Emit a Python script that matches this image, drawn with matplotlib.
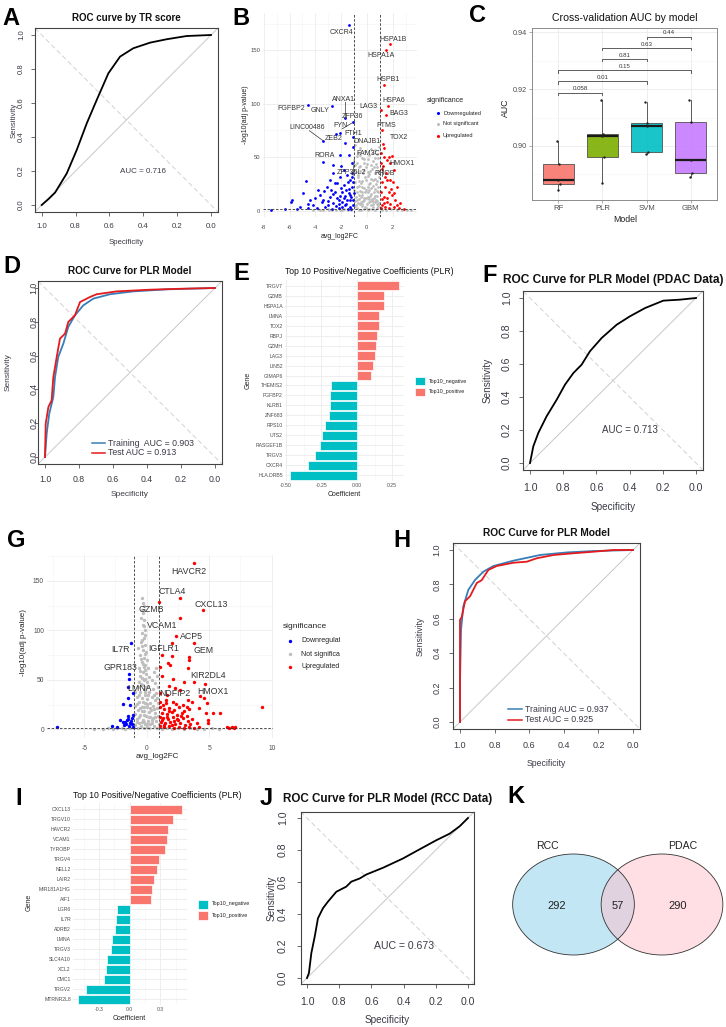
import numpy as np
import matplotlib.pyplot as plt
import matplotlib.transforms as mtrans
from matplotlib.patches import Ellipse, Rectangle

plt.rcParams['font.family'] = ['Liberation Sans', 'DejaVu Sans']

W, H = 726, 1027

# ---------------- data ----------------
# A: ROC curve by TR score
a_spec = [1.0, 0.96, 0.921, 0.852, 0.793, 0.734, 0.675, 0.606, 0.537, 0.459, 0.360, 0.262, 0.144, 0.0]
a_sens = [0.0, 0.035, 0.073, 0.186, 0.324, 0.480, 0.618, 0.775, 0.873, 0.922, 0.955, 0.975, 0.994, 1.0]

# D: PLR model, train / test
d_train_spec = [1.0, 0.99, 0.975, 0.951, 0.941, 0.922, 0.892, 0.863, 0.824, 0.775, 0.716, 0.618, 0.48, 0.284, 0.0]
d_train_sens = [0.0, 0.14, 0.256, 0.355, 0.473, 0.592, 0.671, 0.77, 0.838, 0.897, 0.937, 0.963, 0.98, 0.992, 1.0]
d_test_spec = [1.0, 0.996, 0.98, 0.961, 0.951, 0.931, 0.912, 0.882, 0.863, 0.824, 0.794, 0.735, 0.696, 0.578, 0.382, 0.186, 0.0]
d_test_sens = [0.0, 0.197, 0.296, 0.335, 0.473, 0.592, 0.70, 0.730, 0.799, 0.838, 0.917, 0.947, 0.963, 0.980, 0.990, 0.996, 1.0]

# F: PDAC data
f_spec = [1.0, 0.98, 0.95, 0.90, 0.839, 0.789, 0.739, 0.689, 0.639, 0.568, 0.478, 0.398, 0.307, 0.197, 0.096, 0.0]
f_sens = [0.0, 0.101, 0.182, 0.283, 0.384, 0.475, 0.545, 0.596, 0.677, 0.758, 0.838, 0.889, 0.939, 0.984, 0.990, 1.0]

# H: PLR model (second cohort)
h_train_spec = [1.0, 1.0, 0.994, 0.981, 0.952, 0.913, 0.865, 0.807, 0.691, 0.537, 0.382, 0.228, 0.0]
h_train_sens = [0.0, 0.226, 0.536, 0.671, 0.768, 0.826, 0.874, 0.907, 0.938, 0.971, 0.986, 0.994, 1.0]
h_test_spec = [1.0, 1.0, 0.99, 0.971, 0.942, 0.903, 0.875, 0.836, 0.788, 0.691, 0.614, 0.556, 0.459, 0.344, 0.228, 0.112, 0.0]
h_test_sens = [0.0, 0.594, 0.61, 0.702, 0.731, 0.808, 0.824, 0.884, 0.907, 0.926, 0.932, 0.952, 0.971, 0.981, 0.99, 1.0, 1.0]

# J: RCC data
j_spec = [1.0, 0.988, 0.973, 0.952, 0.932, 0.901, 0.870, 0.818, 0.756, 0.725, 0.673, 0.631, 0.528, 0.404, 0.321, 0.197, 0.114, 0.052, 0.0]
j_sens = [0.0, 0.031, 0.156, 0.259, 0.373, 0.436, 0.477, 0.539, 0.571, 0.602, 0.622, 0.647, 0.689, 0.747, 0.793, 0.861, 0.902, 0.948, 1.0]

# C: cross-validation AUC
models = ['RF', 'PLR', 'SVM', 'GBM']
cv_auc = {
    'RF':  [0.9019, 0.8937, 0.8880, 0.8867, 0.8845],
    'PLR': [0.9160, 0.9041, 0.9036, 0.8960, 0.8871],
    'SVM': [0.9156, 0.9082, 0.9070, 0.8980, 0.8972],
    'GBM': [0.9162, 0.9085, 0.8951, 0.8906, 0.8892],
}
cmp_pairs = [('RF', 'PLR'), ('RF', 'SVM'), ('RF', 'GBM'), ('PLR', 'SVM'), ('PLR', 'GBM'), ('SVM', 'GBM')]
cmp_p = ['0.058', '0.01', '0.15', '0.81', '0.63', '0.44']

# E: top coefficients (first model)
e_genes = ['TRGV7', 'GZMB', 'HSPA1A', 'LMNA', 'TOX2', 'RBPJ', 'GZMH', 'LAG3', 'LIN52', 'GIMAP6',
           'THEMIS2', 'FGFBP2', 'KLRB1', 'ZNF683', 'RPS10', 'UTS2', 'RASGEF1B', 'TRGV3', 'CXCR4', 'HLA.DRB5']
e_coef = [0.295, 0.193, 0.193, 0.156, 0.156, 0.142, 0.132, 0.125, 0.113, 0.101,
          -0.179, -0.186, -0.191, -0.196, -0.226, -0.243, -0.257, -0.295, -0.347, -0.469]
e_ticks = [-0.50, -0.25, 0.00, 0.25]
e_ticklabels = ['-0.50', '-0.25', '0.00', '0.25']

# I: top coefficients (second model)
i_genes = ['CXCL13', 'TRGV10', 'HAVCR2', 'VCAM1', 'TYROBP', 'TRGV4', 'NELL2', 'LAIR2', 'MIR181A1HG', 'AIF1',
           'LGR6', 'IL7R', 'ADRB2', 'LMNA', 'TRGV3', 'SLC4A10', 'XCL2', 'CMC1', 'TRGV2', 'MTRNR2L8']
i_coef = [0.511, 0.423, 0.381, 0.365, 0.349, 0.293, 0.264, 0.244, 0.221, 0.208,
          -0.124, -0.130, -0.140, -0.169, -0.186, -0.221, -0.235, -0.254, -0.423, -0.502]
i_ticks = [-0.3, 0.0, 0.3]
i_ticklabels = ['-0.3', '0.0', '0.3']

# B: volcano (avg_log2FC, -log10 adj p)
b_down = [(-1.35, 173.4), (-4.53, 99.1), (-2.72, 98.1), (-1.68, 86.6), (-1.09, 82.5), (-2.07, 73.1),
          (-3.42, 65.6), (-2.38, 71.6), (-1.68, 63.1), (-1.04, 68.8), (-1.11, 60), (-3.37, 45.3),
          (-2.07, 51.9), (-1.42, 52.2), (-2.59, 42.8), (-1.17, 44.4), (-4.72, 27.8), (-4.92, 16.9),
          (-5.78, 10), (-5.88, 8.4), (-6.35, 1.6), (-7.44, 0.6), (-4.40, 10), (-4.53, 6.3),
          (-3.63, 14.7), (-3.50, 8.4), (-3.11, 22.5), (-2.85, 28.8), (-2.59, 35), (-2.33, 25.6),
          (-2.07, 31.9), (-1.81, 38.1), (-1.55, 33.4), (-1.30, 28.8), (-1.17, 22.5), (-1.42, 16.3),
          (-1.81, 11.6), (-2.20, 10), (-2.59, 6.9), (-2.98, 5.3), (-3.24, 3.1), (-3.89, 2.2),
          (-4.15, 5.3), (-5.18, 3.8), (-5.44, 1.3), (-1.68, 5.3), (-1.30, 3.8), (-1.04, 10),
          (-1.55, 10), (-1.94, 17.8), (-2.46, 17.8), (-2.85, 13.1), (-3.37, 10), (-4.02, 11.6),
          (-1.17, 35), (-1.04, 27.2), (-1.02, 16.3), (-2.20, 2.2), (-2.72, 1.3), (-4.53, 2.2),
          (-3.76, 19.4), (-1.25, 12.5), (-1.6, 6.5), (-1.9, 3.2), (-2.4, 4.5), (-1.1, 5.0),
          (-1.35, 20.0), (-1.75, 24.0), (-2.1, 14.0), (-1.2, 1.8), (-1.5, 1.5), (-3.0, 9.0),
          (-1.3, 15), (-1.6, 19), (-2.0, 21), (-2.3, 12), (-2.6, 16), (-1.9, 8), (-2.5, 26),
          (-1.45, 27), (-1.15, 31), (-2.0, 42), (-3.3, 18), (-2.8, 19), (-1.7, 14), (-2.2, 6), (-1.3, 10)]
b_ns = [(-0.92, 61), (-0.55, 59), (-0.15, 56), (0.35, 58), (0.75, 53), (0.97, 60),
        (-0.8, 51), (-0.4, 49), (0.1, 48), (0.5, 46), (0.88, 49), (-0.95, 43), (-0.62, 41),
        (-0.08, 41), (0.42, 39), (0.8, 41), (-0.85, 36), (-0.3, 35), (0.2, 34), (0.65, 35),
        (0.95, 31), (-0.7, 31), (-0.05, 29), (0.45, 29), (-0.9, 27), (-0.45, 26), (0.15, 25),
        (0.72, 25), (-0.75, 22), (-0.2, 21), (0.35, 21), (0.9, 22), (-0.97, 19), (-0.55, 18),
        (0.05, 17), (0.55, 17), (-0.35, 15), (0.25, 14), (0.82, 14), (-0.82, 13), (-0.6, 11),
        (-0.1, 12), (0.4, 11), (0.7, 10), (-0.9, 9), (-0.3, 9), (0.15, 8), (0.6, 8), (0.95, 7),
        (-0.7, 7), (-0.5, 6), (0.0, 6), (0.3, 5), (0.85, 5), (-0.95, 4), (-0.4, 4), (-0.15, 3),
        (0.5, 3), (0.75, 2), (-0.8, 2), (-0.25, 1.5), (0.2, 1.5), (0.65, 1), (-0.6, 1),
        (-0.65, 54), (0.2, 52), (0.6, 57), (-0.25, 45), (0.3, 43), (0.7, 44), (-0.5, 37),
        (0.05, 36), (0.9, 37), (-0.15, 31), (0.3, 30), (-0.6, 28), (0.6, 30), (-0.4, 22),
        (0.1, 22), (0.65, 20), (-0.75, 17), (-0.15, 17), (0.35, 16), (0.9, 17), (-0.45, 13),
        (0.05, 13), (0.55, 12), (-0.8, 10), (-0.2, 10), (0.3, 9), (0.8, 9), (-0.88, 5.5),
        (-0.35, 6.5), (0.45, 6.5), (0.9, 3), (-0.05, 2), (0.4, 1.2), (-0.45, 0.8), (0.1, 0.5),
        (-0.5, 52), (0.45, 54), (-0.2, 48), (0.65, 49), (-0.75, 45), (0.0, 44), (-0.5, 42),
        (0.55, 41), (-0.2, 38), (0.25, 37), (-0.65, 33), (0.1, 32), (0.8, 28), (-0.35, 28),
        (0.25, 26), (-0.6, 23), (0.5, 23), (-0.1, 19), (0.75, 18), (-0.4, 17), (0.2, 19),
        (-0.6, 15), (0.6, 14), (-0.25, 12), (0.15, 11), (-0.45, 8), (0.45, 9), (0.75, 6),
        (-4.2, 0.6), (-3.8, 1.2), (-3.4, 0.8), (-3.0, 1.5), (-2.7, 0.5), (-2.4, 1.0), (-2.1, 0.7),
        (-1.8, 1.2), (-1.5, 0.5), (-1.2, 1.0), (1.2, 0.8), (1.5, 0.4), (1.9, 1.1), (2.3, 0.6),
        (2.7, 0.9), (3.1, 0.5), (3.4, 0.3), (-3.6, 0.3), (-2.9, 0.2), (-1.9, 0.3)]
b_up = [(1.76, 156), (1.48, 150.6), (1.30, 117.8), (1.61, 97.5), (1.50, 89.7), (1.09, 94.4),
        (1.17, 75.6), (1.24, 62.5), (1.55, 47.5), (1.30, 58.4), (1.35, 50.6), (1.68, 50.6),
        (1.94, 51.3), (1.81, 44.4), (1.24, 41.3), (1.50, 35), (1.76, 28.8), (2.07, 38.1),
        (1.17, 27.2), (1.42, 22.5), (1.68, 17.8), (1.94, 14.7), (2.20, 10), (1.30, 13.1),
        (1.55, 8.4), (1.81, 6.3), (2.07, 3.8), (2.46, 2.2), (2.85, 1.3), (1.17, 5.3), (1.42, 3.1),
        (2.33, 22.5), (1.09, 17.8), (1.55, 28.8), (2.02, 27.2), (1.19, 39.4), (1.11, 53.8),
        (1.09, 44.4), (2.12, 16.3), (2.59, 6.9), (1.2, 10.5), (1.6, 12.0), (1.35, 7.0),
        (1.85, 20.5), (1.1, 2.0), (1.7, 2.5), (2.3, 5.0), (1.4, 31.0)]
b_lab = {'CXCR4': (-1.99, 167), 'HSPA1B': (2.02, 160.6), 'HSPA1A': (1.09, 145), 'HSPB1': (1.63, 122.5),
         'HSPA6': (2.07, 103.4), 'BAG3': (2.46, 91.3), 'LAG3': (0.13, 97.5), 'ANXA1': (-1.81, 104.4),
         'ZFP36': (-1.11, 88.1), 'FGFBP2': (-5.83, 95.3), 'GNLY': (-3.63, 94.1), 'FYN': (-2.07, 79.5),
         'FTH1': (-1.1, 72.3), 'LINC00486': (-4.61, 77.8), 'ZEB2': (-2.59, 67.2), 'PTMS': (1.50, 80),
         'DNAJB1': (0.0, 64.7), 'TOX2': (2.46, 68.4), 'FAM3C': (0.08, 53.1), 'HMOX1': (2.72, 44.4),
         'RORA': (-3.32, 51.9), 'ZFP36L2': (-1.22, 35.9), 'RHOB': (1.35, 35)}
b_links = {'ANXA1': (-1.68, 86.6), 'FYN': (-1.09, 82.5), 'LINC00486': (-3.42, 65.6),
           'ZFP36L2': (-0.98, 48.0), 'RHOB': (1.24, 41.3)}

# G: volcano (second cohort)
g_down = [(-1.28, 87.5), (-1.41, 55.8), (-1.41, 50.5), (-1.47, 43.1), (-1.07, 36.3), (-1.47, 31.3),
          (-1.87, 25.6), (-1.33, 24.6), (-2.13, 9.4), (-2.8, 3.4), (-7.15, 2.0), (-1.73, 7.7),
          (-1.47, 10.1), (-1.65, 5.4), (-1.33, 6.1), (-1.2, 11.1), (-1.07, 14.5), (-1.52, 13.5),
          (-1.81, 4.4), (-2.4, 2.7), (-1.12, 2.7), (-1.25, 8.5), (-1.6, 9.0), (-1.4, 3.5),
          (-1.15, 5.0), (-1.9, 7.0)]
g_ns = [(-0.4, 133), (-0.27, 117), (-0.21, 110), (-0.3, 105), (-0.15, 100), (-0.35, 97), (-0.2, 92),
        (-0.45, 88), (-0.1, 85), (-0.67, 82), (-0.3, 80), (-0.05, 78), (-0.5, 75), (-0.2, 72),
        (0.05, 70), (-0.4, 68), (-0.15, 65), (-0.6, 62), (0.1, 62), (-0.3, 58), (-0.05, 56),
        (-0.55, 54), (0.15, 53), (-0.25, 50), (0.0, 48), (-0.45, 46), (-0.7, 43), (0.1, 44),
        (-0.2, 41), (-0.9, 38), (-0.5, 38), (0.2, 38), (-0.1, 35), (-0.8, 33), (-0.35, 32),
        (0.05, 31), (-0.6, 28), (-0.15, 27), (0.25, 27), (-0.9, 24), (-0.4, 23), (0.0, 22),
        (-0.7, 19), (-0.25, 18), (0.15, 17), (-0.95, 15), (-0.5, 14), (-0.05, 13), (0.3, 12),
        (-0.8, 10), (-0.3, 9), (0.1, 8), (-0.6, 6), (-0.15, 5), (0.25, 5), (-0.9, 4), (-0.45, 3),
        (0.0, 2.5), (-0.7, 1.5), (-0.25, 1), (0.2, 1), (-0.35, 120), (-0.25, 125), (-0.45, 112),
        (-0.1, 95), (-0.4, 84), (-0.25, 63), (-0.05, 43), (-0.4, 18), (-0.2, 7),
        (-0.3, 128), (-0.2, 104), (-0.35, 90), (-0.15, 76), (-0.45, 71), (-0.3, 66), (-0.1, 60),
        (-0.5, 59), (-0.35, 52), (-0.1, 51), (-0.6, 48), (-0.3, 45), (-0.15, 38), (-0.6, 35),
        (0.1, 35), (-0.3, 28), (-0.75, 26), (0.05, 26), (-0.5, 21), (-0.2, 22), (0.25, 21),
        (-0.65, 12), (-0.2, 14), (0.15, 12), (-0.4, 7), (0.0, 5), (-0.75, 7.5), (0.45, 9),
        (0.6, 20), (0.55, 35), (0.8, 32), (0.7, 12),
        (0.75, 62), (0.55, 58), (0.85, 54), (0.45, 50), (0.7, 47), (0.9, 43), (0.5, 41), (0.75, 37),
        (0.4, 33), (0.65, 30), (0.9, 27), (0.5, 24), (0.8, 21), (0.35, 19), (0.65, 16), (0.9, 13),
        (0.5, 11), (0.75, 8), (0.4, 6), (0.95, 5), (0.6, 3), (0.85, 1.5),
        (-3.5, 0.5), (-3.1, 1), (-2.7, 0.3), (-2.4, 0.8), (-2.0, 1.2), (-1.7, 0.4), (-1.3, 0.9),
        (1.2, 0.5), (1.6, 1.1), (2.0, 0.3), (2.5, 0.8), (3.0, 0.4), (3.5, 1.0), (4.0, 0.6),
        (4.6, 0.3), (5.2, 0.8), (-4.2, 0.3), (5.8, 0.5)]
g_up = [(3.81, 167.5), (2.67, 132.9), (1.01, 128.2), (4.51, 120.4), (2.67, 112), (2.35, 94.5),
        (3.81, 87.1), (2.0, 86.8), (1.25, 75), (2.05, 74), (3.41, 73.3), (3.41, 70), (1.73, 66.6),
        (1.87, 64.9), (3.28, 61.6), (1.07, 63.2), (1.20, 53.8), (2.13, 50.5), (3.81, 48.1),
        (4.67, 45.7), (3.01, 48.1), (1.79, 43.7), (2.27, 41.4), (2.67, 39.7), (1.07, 36.3),
        (1.60, 34.6), (4.27, 33.6), (4.59, 31.3), (1.52, 26.9), (2.13, 27.9), (3.60, 27.9),
        (4.80, 26.2), (3.20, 22.9), (4.21, 21.2), (9.2, 22.9), (4.75, 16.8), (5.33, 16.1),
        (5.87, 16.8), (4.93, 9.4), (4.93, 6.7), (4.0, 6.1),
        (1.1, 22), (1.4, 20), (1.8, 21), (2.2, 19), (2.6, 22), (3.0, 18), (3.4, 20),
        (1.2, 16), (1.6, 15), (2.0, 17), (2.4, 14), (2.8, 16), (3.2, 13),
        (1.05, 12), (1.3, 11), (1.7, 10), (2.1, 12), (2.5, 9), (2.9, 11), (3.3, 8), (3.6, 10),
        (1.15, 7), (1.5, 6), (1.9, 7), (2.3, 5), (2.7, 6), (3.1, 4), (3.5, 5),
        (1.1, 3), (1.4, 2), (1.8, 3), (2.2, 1.5), (2.6, 2.5), (3.0, 1.5), (3.4, 2), (3.8, 1.5), (4.2, 2),
        (1.25, 9), (1.6, 12.5), (2.0, 4), (2.4, 10.5), (1.35, 4.5), (1.75, 18), (2.15, 8), (2.75, 13),
        (1.05, 28), (1.3, 25), (1.55, 30), (2.35, 26), (2.9, 25), (3.3, 30),
        (6.4, 2), (6.6, 1.2), (6.8, 2.5), (7.0, 1.5), (7.1, 2.2)]
g_lab = {'HAVCR2': (3.33, 159.8), 'CTLA4': (2.0, 139.6), 'CXCL13': (5.15, 126.5), 'GZMB': (0.35, 121.1),
         'VCAM1': (1.25, 105.3), 'ACP5': (3.55, 93.2), 'IGFLR1': (1.39, 81.1), 'GEM': (4.53, 79.4),
         'IL7R': (-2.08, 80.4), 'GPR183': (-2.08, 62.2), 'KIR2DL4': (4.88, 54.8), 'LMNA': (-0.59, 40.7),
         'NDFIP2': (2.27, 35.7), 'HMOX1': (5.33, 38.0)}

# K: Venn counts
venn_sets = ['RCC', 'PDAC']
venn_counts = [292, 57, 290]

# ---------------- helpers ----------------
fig = plt.figure(figsize=(W / 100, H / 100), dpi=100)
TXT = '#3A3A46'
GG = '#4D4D4D'
GRID = '#EBEBEB'


def px_box(l, t, r, b):
    return [l / W, 1 - b / H, (r - l) / W, (b - t) / H]


def ftext(x, y, s, **kw):
    return fig.text(x / W, 1 - y / H, s, **kw)


def letter(x, y, s):
    ftext(x, y, s, fontsize=17, fontweight='bold', va='baseline', ha='left', color='black')


def clip_right(t, clip_x):
    bb = mtrans.TransformedBbox(mtrans.Bbox.from_extents(0, 0, clip_x / W, 1), fig.transFigure)
    t.set_clip_box(bb)
    t.set_clip_on(True)


def roc_panel(anch, curves, title, title_y, tfs, fs, lfs, toff, loff, auc=None, legend=None):
    px1, px0, py0, py1 = anch
    sx, sy = px0 - px1, py0 - py1
    l, r = px1 - 0.04 * sx, px0 + 0.04 * sx
    t, b = py1 - 0.04 * sy, py0 + 0.04 * sy
    ax = fig.add_axes(px_box(l, t, r, b))
    ax.set_xlim(1.04, -0.04)
    ax.set_ylim(-0.04, 1.04)
    ax.plot([1.04, -0.04], [-0.04, 1.04], color='#C8C8C8', lw=0.7)
    ax.plot([1.04, -0.04], [1.04, -0.04], color='#D2D2D2', lw=0.7, ls=(0, (5, 3)))
    for spec, sens, col in curves:
        ax.plot(spec, sens, color=col, lw=1.3)
    ticks = [1.0, 0.8, 0.6, 0.4, 0.2, 0.0]
    ax.set_xticks(ticks)
    ax.set_yticks(ticks)
    ax.set_xticklabels([])
    ax.set_yticklabels([])
    ax.tick_params(length=3, width=0.6, color='#555555')
    for sp in ax.spines.values():
        sp.set_color('#444444')
        sp.set_linewidth(0.8)
    trx = mtrans.blended_transform_factory(ax.transData, fig.transFigure)
    tr_y = mtrans.blended_transform_factory(fig.transFigure, ax.transData)
    for v in ticks:
        ax.text(v, 1 - (py0 + toff[0]) / H, f'{v:.1f}', transform=trx, ha='center', va='center',
                fontsize=fs, color=TXT)
        ax.text((px1 - toff[1]) / W, v, f'{v:.1f}', transform=tr_y, ha='center', va='center',
                rotation=90, fontsize=fs, color=TXT)
    cx, cy = (l + r) / 2, (t + b) / 2
    ftext(cx, title_y, title, fontsize=tfs, fontweight='bold', ha='center', va='center', color='#111111')
    ftext(cx, py0 + loff[0], 'Specificity', fontsize=lfs, ha='center', va='center', color=TXT)
    ftext(px1 - loff[1], cy, 'Sensitivity', fontsize=lfs, ha='center', va='center', rotation=90, color=TXT)
    if auc:
        ax.text(0.4, 0.2, auc[0], fontsize=auc[1], ha='center', va='center', color=TXT)
    if legend:
        (lx0, lx1, ly0, ly1), items, lgfs = legend
        for k, (lab, col) in enumerate(items):
            yy = 1 - [ly0, ly1][k] / H
            ax.plot([lx0 / W, lx1 / W], [yy, yy], color=col, lw=1.1, transform=fig.transFigure, clip_on=False)
            fig.text((lx1 + 3) / W, yy, lab, fontsize=lgfs, va='center', ha='left', color=TXT)
    return ax


def volcano(boxpx, xlim, ylim, xmaj, xmin, ymaj, ymin, down, ns, up, labels, links,
            fs, lab_fs, s, leg, xpad, clip_x=None):
    ax = fig.add_axes(px_box(*boxpx))
    ax.set_xlim(*xlim)
    ax.set_ylim(*ylim)
    for sp in ax.spines.values():
        sp.set_visible(False)
    ax.set_xticks(xmaj)
    ax.set_xticks(xmin, minor=True)
    ax.set_yticks(ymaj)
    ax.set_yticks(ymin, minor=True)
    ax.grid(True, which='major', color=GRID, lw=0.6)
    ax.grid(True, which='minor', color='#F4F4F4', lw=0.4)
    ax.set_axisbelow(True)
    ax.tick_params(which='both', length=0, labelsize=fs, labelcolor=GG, pad=2)
    ax.tick_params(axis='x', pad=xpad)
    ax.set_xticklabels([f'{v:g}' for v in xmaj])
    for pts, col in ((ns, '#BEBEBE'), (down, '#0000FF'), (up, '#FF0000')):
        arr = np.array(pts)
        ax.scatter(arr[:, 0], arr[:, 1], s=s, color=col, lw=0, zorder=3)
    ax.axvline(-1, color='#333333', lw=0.6, ls=(0, (3, 2)), zorder=4)
    ax.axvline(1, color='#333333', lw=0.6, ls=(0, (3, 2)), zorder=4)
    ax.axhline(-np.log10(0.05), color='#333333', lw=0.6, ls=(0, (3, 2)), zorder=4)
    for g, (tx, ty) in labels.items():
        ax.text(tx, ty, g, fontsize=lab_fs, ha='center', va='center', color='#333333', zorder=5)
    for g, (px_, py_) in links.items():
        tx, ty = labels[g]
        ax.plot([tx + 0.15 * np.sign(px_ - tx), px_], [ty - 3, py_], color='#333333', lw=0.5, zorder=4)
    # legend
    (tx0, ty0), (dx, txx), ys, tfs, ifs, ms = leg
    ftext(tx0, ty0, 'significance', fontsize=tfs, va='center', ha='left', color='#222222')
    for lab, col, yy in zip(['Downregulated', 'Not significant', 'Upregulated'],
                            ['#0000FF', '#BEBEBE', '#FF0000'], ys):
        ax.scatter([dx / W], [1 - yy / H], s=ms, color=col, lw=0, transform=fig.transFigure, clip_on=False)
        t = ftext(txx, yy, lab, fontsize=ifs, va='center', ha='left', color='#222222')
        if clip_x:
            clip_right(t, clip_x)
    return ax


def coef_panel(boxpx, genes, coef, xlim, xmaj, xlabs, xmin, title, title_xy, gene_fs, tfs, afs,
               xlab_xy, ylab_xy, leg, clip_x=None):
    ax = fig.add_axes(px_box(*boxpx))
    n = len(genes)
    ypos = np.arange(n)[::-1] + 1
    cols = ['#F8766D' if c > 0 else '#00BFC4' for c in coef]
    ax.barh(ypos, coef, height=0.9, color=cols, edgecolor='white', lw=0.5, zorder=3)
    ax.set_xlim(*xlim)
    ax.set_ylim(0.4, n + 0.6)
    ax.set_yticks(ypos)
    ax.set_yticklabels(genes)
    ax.set_xticks(xmaj)
    ax.set_xticks(xmin, minor=True)
    ax.set_xticklabels(xlabs)
    for sp in ax.spines.values():
        sp.set_visible(False)
    ax.grid(True, which='major', color=GRID, lw=0.6)
    ax.grid(True, which='minor', axis='x', color='#F4F4F4', lw=0.4)
    ax.set_axisbelow(True)
    ax.tick_params(which='both', length=0, labelsize=gene_fs, labelcolor=GG, pad=1.5)
    t = ftext(title_xy[0], title_xy[1], title, fontsize=tfs, ha='left', va='center', color='#111111')
    ftext(xlab_xy[0], xlab_xy[1], 'Coefficient', fontsize=afs, ha='center', va='center', color='#222222')
    ftext(ylab_xy[0], ylab_xy[1], 'Gene', fontsize=afs, ha='center', va='center', rotation=90, color='#222222')
    sx0, sw, sh, sy0, sy1, tx, lfs = leg
    for lab, col, yy in (('Top10_negative', '#00BFC4', sy0), ('Top10_positive', '#F8766D', sy1)):
        fig.patches.append(Rectangle((sx0 / W, 1 - (yy + sh / 2) / H), sw / W, sh / H, facecolor=col,
                                     edgecolor='white', lw=0.5, transform=fig.transFigure, figure=fig))
        t = ftext(tx, yy, lab, fontsize=lfs, ha='left', va='center', color='#222222')
        if clip_x:
            clip_right(t, clip_x)
    return ax


# ---------------- A ----------------
letter(2, 25, 'A')
roc_panel((41.7, 211, 205, 35), [(a_spec, a_sens, 'black')], 'ROC curve by TR score', 18, 7.0,
          5.6, 5.6, (22, 20), (38, 28), auc=('AUC = 0.716', 5.8))

# ---------------- D ----------------
letter(3, 273, 'D')
roc_panel((45, 215, 457, 288),
          [(d_train_spec, d_train_sens, '#377EB8'), (d_test_spec, d_test_sens, '#E41A1C')],
          'ROC Curve for PLR Model', 271, 7.2, 6.3, 6.0, (22, 11), (38, 37),
          legend=((92, 105, 443, 453), [('Training  AUC = 0.903', '#377EB8'),
                                        ('Test AUC = 0.913', '#E41A1C')], 6.3))

# ---------------- F ----------------
letter(482, 282, 'F')
roc_panel((530, 696, 463, 298), [(f_spec, f_sens, 'black')], 'ROC Curve for PLR Model (PDAC Data)', 280,
          8.6, 7.6, 7.2, (25, 23), (44, 42), auc=('AUC = 0.713', 7.0))

# ---------------- H ----------------
letter(393, 547, 'H')
roc_panel((460, 633, 722, 550),
          [(h_train_spec, h_train_sens, '#377EB8'), (h_test_spec, h_test_sens, '#E41A1C')],
          'ROC Curve for PLR Model', 533, 7.4, 6.5, 6.2, (24, 23), (41, 40),
          legend=((508, 522, 709, 720), [('Training AUC = 0.937', '#377EB8'),
                                         ('Test AUC = 0.925', '#E41A1C')], 6.3))

# ---------------- J ----------------
letter(260, 805, 'J')
roc_panel((307, 468, 978, 818), [(j_spec, j_sens, 'black')], 'ROC Curve for PLR Model (RCC Data)', 799,
          8.4, 7.6, 7.2, (24, 24), (42, 35), auc=('AUC = 0.673', 7.6))

# ---------------- B ----------------
letter(232, 25, 'B')
axb = volcano((263, 13, 417, 217), (-8.06, 3.89), (-6, 185), [-8, -6, -4, -2, 0, 2],
              [-7, -5, -3, -1, 1, 3], [0, 50, 100, 150], [25, 75, 125, 175],
              b_down, b_ns, b_up, b_lab, b_links, 4.2, 5.0, 4,
              ((427, 100), (438, 443), [113, 124, 136], 5.0, 4.1, 5), 6.0)
ftext(340, 236, 'avg_log2FC', fontsize=5.0, ha='center', va='center', color='#222222')
ftext(245, 115, '-log10(adj p-value)', fontsize=5.0, ha='center', va='center', rotation=90, color='#222222')

# ---------------- G ----------------
letter(7, 547, 'G')
axg = volcano((46.7, 555, 273, 737.6), (-8.0, 10.1), (-8.4, 176), [-5, 0, 5, 10],
              [-7.5, -2.5, 2.5, 7.5], [0, 50, 100, 150], [25, 75, 125, 175],
              g_down, g_ns, g_up, g_lab, {}, 4.8, 6.3, 6,
              ((283, 626), (290, 301), [641, 654, 667], 6.0, 5.0, 6), 5.0, clip_x=340)
ftext(157, 756, 'avg_log2FC', fontsize=5.8, ha='center', va='center', color='#222222')
ftext(24, 643, '-log10(adj p-value)', fontsize=5.8, ha='center', va='center', rotation=90, color='#222222')

# ---------------- C ----------------
ftext(469, 22, 'C', fontsize=17, fontweight='bold', va='baseline', ha='left')
axc = fig.add_axes(px_box(532, 28, 717, 200))
fills = {'RF': '#F8766D', 'PLR': '#7CAE00', 'SVM': '#00BFC4', 'GBM': '#C77CFF'}
jit = [-0.03, 0.02, 0.0, 0.03, -0.02]
for k, m in enumerate(models):
    vals = cv_auc[m]
    axc.boxplot([vals], positions=[k + 1], widths=0.7, patch_artist=True, showfliers=False,
                whis=1.6, medianprops=dict(color='#1A1A1A', lw=1.6),
                boxprops=dict(facecolor=fills[m], alpha=0.9, edgecolor='#444444', lw=0.6),
                whiskerprops=dict(color='#444444', lw=0.6), capprops=dict(lw=0))
    axc.scatter(np.full(len(vals), k + 1) + np.array(jit), vals, s=3, color='#222222', zorder=4, lw=0)
base, step = 0.9188, 0.00394
for k, ((g1, g2), p) in enumerate(zip(cmp_pairs, cmp_p)):
    x1, x2 = models.index(g1) + 1, models.index(g2) + 1
    yb = base + step * k
    axc.plot([x1, x1, x2, x2], [yb - 0.0009, yb, yb, yb - 0.0009], color='#444444', lw=0.6)
    axc.text((x1 + x2) / 2, yb + 0.0004, p, fontsize=4.4, ha='center', va='bottom', color='#333333')
axc.set_xlim(0.4, 4.6)
axc.set_ylim(0.881, 0.9415)
axc.set_xticks([1, 2, 3, 4])
axc.set_xticklabels(models)
axc.set_yticks([0.90, 0.92, 0.94])
axc.set_yticks([0.89, 0.91, 0.93], minor=True)
axc.grid(True, which='major', color=GRID, lw=0.6)
axc.grid(True, which='minor', color='#F4F4F4', lw=0.4)
axc.set_axisbelow(True)
for sp in axc.spines.values():
    sp.set_color('#8C8C8C')
    sp.set_linewidth(0.7)
axc.tick_params(which='both', length=2, width=0.5, color='#8C8C8C', labelsize=5.2, labelcolor=GG, pad=1.5)
axc.tick_params(which='minor', length=0)
axc.tick_params(axis='x', labelsize=5.6)
ftext(625, 18, 'Cross-validation AUC by model', fontsize=7.6, ha='center', va='center', color='#111111')
ftext(505, 108, 'AUC', fontsize=6.3, ha='center', va='center', rotation=90, color='#222222')
ftext(625, 220, 'Model', fontsize=6.3, ha='center', va='center', color='#222222')

# ---------------- E ----------------
letter(233, 280, 'E')
coef_panel((285, 280, 404, 481), e_genes, e_coef, (-0.507, 0.333), e_ticks, e_ticklabels,
           [-0.375, -0.125, 0.125], 'Top 10 Positive/Negative Coefficients (PLR)', (285, 272),
           3.7, 6.2, 5.0, (344, 495), (248, 380), (415, 10, 8, 381, 392, 429, 3.9))

# ---------------- I ----------------
letter(15, 805, 'I')
coef_panel((73, 803, 187, 1005), i_genes, i_coef, (-0.553, 0.562), i_ticks, i_ticklabels,
           [-0.45, -0.15, 0.15, 0.45], 'Top 10 Positive/Negative Coefficients (PLR)', (73, 795),
           3.7, 6.2, 5.0, (129, 1019), (29, 902), (198, 10, 9, 904, 915, 212, 3.9), clip_x=253)

# ---------------- K ----------------
letter(507, 803, 'K')
axk = fig.add_axes(px_box(500, 780, 726, 1027))
axk.set_xlim(500, 726)
axk.set_ylim(1027, 780)
axk.axis('off')
axk.add_patch(Ellipse((573.5, 904.5), 121.7, 101, facecolor='#87CEEB', alpha=0.5, lw=0))
axk.add_patch(Ellipse((662, 904.5), 121.7, 101, facecolor='#FFC0CB', alpha=0.5, lw=0))
axk.add_patch(Ellipse((573.5, 904.5), 121.7, 101, facecolor='none', edgecolor='#333333', lw=0.6))
axk.add_patch(Ellipse((662, 904.5), 121.7, 101, facecolor='none', edgecolor='#333333', lw=0.6))
axk.text(547, 846, venn_sets[0], fontsize=7.6, ha='center', va='center', color='#222222')
axk.text(683, 846, venn_sets[1], fontsize=7.6, ha='center', va='center', color='#222222')
for xx, c in zip([557, 617.8, 678], venn_counts):
    axk.text(xx, 906, str(c), fontsize=8.0, ha='center', va='center', color='#222222')

fig.savefig('out.png', dpi=100)
